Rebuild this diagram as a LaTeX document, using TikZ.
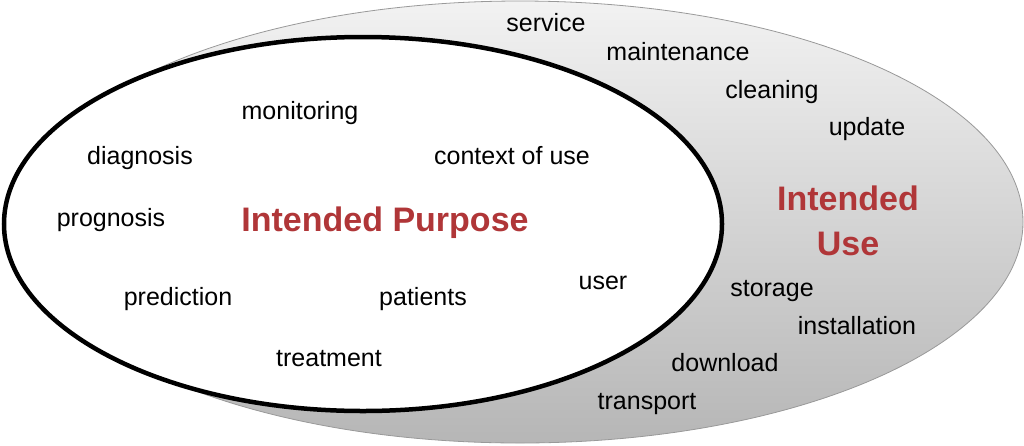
\documentclass[tikz,border=0pt]{standalone}
\usepackage{fontspec}
\setmainfont{Liberation Sans}
\definecolor{ired}{RGB}{176,54,56}
\definecolor{otop}{RGB}{242,242,242}
\definecolor{obot}{RGB}{182,182,182}
\begin{document}
\begin{tikzpicture}[x=1pt,y=-1pt,
  word/.style={font=\fontsize{25}{30}\selectfont, inner sep=0pt, anchor=base},
  title/.style={font=\fontsize{34}{45}\selectfont\bfseries, text=ired, inner sep=0pt, align=center}]
\useasboundingbox (0,0) rectangle (1024,445);
% outer ellipse (Intended Use)
\shade[top color=otop, bottom color=obot] (520,222) ellipse [x radius=503, y radius=221];
\draw[gray!80, line width=0.8pt] (520,222) ellipse [x radius=503, y radius=221];
% inner ellipse (Intended Purpose)
\draw[fill=white, line width=4.5pt] (363,224) ellipse [x radius=359, y radius=187];
% outer words
\node[word] (service) at (546,31) {service};
\node[word] (maint) at (678,60) {maintenance};
\node[word] (clean) at (772,98) {cleaning};
\node[word] (update) at (867,135) {update};
\node[word] (storage) at (772,296) {storage};
\node[word] (install) at (857,334) {installation};
\node[word] (download) at (725,371) {download};
\node[word] (transport) at (647,409) {transport};
\node[title] (iu) at (848,221) {Intended\\Use};
% inner words
\node[word] (monitor) at (300,119) {monitoring};
\node[word] (diag) at (140,164) {diagnosis};
\node[word] (context) at (512,164) {context of use};
\node[word] (progn) at (111,226) {prognosis};
\node[title] (ip) at (385,223) {Intended Purpose};
\node[word] (user) at (603,289) {user};
\node[word] (pred) at (178,305) {prediction};
\node[word] (patients) at (423,305) {patients};
\node[word] (treat) at (329,366) {treatment};
\end{tikzpicture}
\end{document}
